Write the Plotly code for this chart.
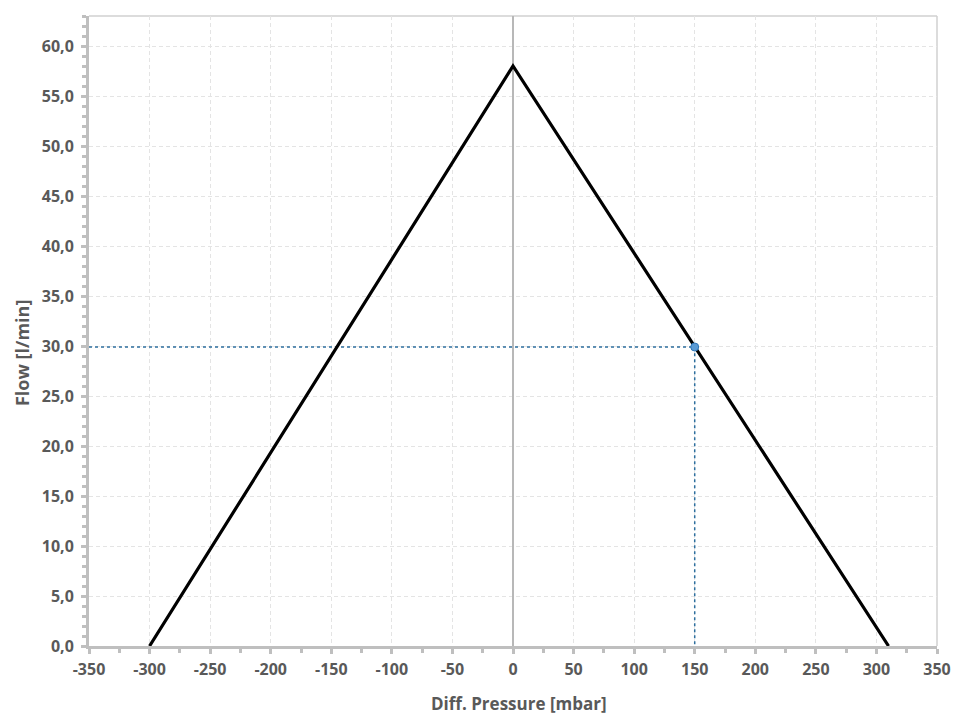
import plotly.graph_objects as go

# Data
pressure = [-300, 0, 310]
flow = [0, 58, 0]
op_pressure = [150]
op_flow = [29.9]
x_ticks = list(range(-350, 351, 50))
x_tick_labels = [str(v) for v in x_ticks]
y_ticks = list(range(0, 61, 5))

fig = go.Figure()

# dotted guide lines to operating point
fig.add_trace(go.Scatter(
    x=[-350, op_pressure[0], op_pressure[0]],
    y=[op_flow[0], op_flow[0], 0],
    mode="lines",
    line=dict(color="#2e6f9e", width=1.5, dash="dot"),
    hoverinfo="skip", showlegend=False))

fig.add_trace(go.Scatter(
    x=pressure, y=flow, mode="lines",
    line=dict(color="black", width=3.2),
    showlegend=False))

fig.add_trace(go.Scatter(
    x=op_pressure, y=op_flow, mode="markers",
    marker=dict(color="#5b9bd5", size=8, line=dict(color="#2e75b6", width=1)),
    showlegend=False))

font_color = "#595959"
axis_col = "#bfbfbf"
grid_col = "#e4e4e4"

fig.update_layout(
    width=960, height=717,
    margin=dict(l=81, r=31, t=8, b=79),
    paper_bgcolor="white", plot_bgcolor="white",
    separators=",.",
    font=dict(family="Open Sans, Segoe UI, sans-serif", color=font_color, size=16),
    xaxis=dict(
        range=[-350, 350], tickvals=x_ticks, ticktext=x_tick_labels,
        tickfont=dict(size=16, weight="bold", color=font_color),
        automargin=False, ticklabelstandoff=2,
        showgrid=True, gridcolor=grid_col, griddash="4px,3px", gridwidth=1,
        showline=True, linecolor=axis_col, linewidth=3,
        ticks="outside", ticklen=5, tickcolor=axis_col, tickwidth=3,
        minor=dict(dtick=25, tick0=0, ticks="outside", ticklen=4, tickcolor=axis_col, tickwidth=3, showgrid=False),
        zeroline=True, zerolinecolor="#b8b8b8", zerolinewidth=1.5,
    ),
    yaxis=dict(
        range=[0, 63], tickvals=y_ticks, tickformat=".1f",
        tickfont=dict(size=16, weight="bold", color=font_color),
        automargin=False, ticklabelstandoff=4,
        showgrid=True, gridcolor=grid_col, griddash="4px,3px", gridwidth=1,
        showline=True, linecolor=axis_col, linewidth=3,
        ticks="outside", ticklen=5, tickcolor=axis_col, tickwidth=3,
        minor=dict(dtick=1, tick0=0, ticks="outside", ticklen=4, tickcolor=axis_col, tickwidth=3, showgrid=False),
        zeroline=False,
    ),
    annotations=[
        dict(text="Diff. Pressure [mbar]", xref="paper", yref="paper", x=0.507, y=-0.092,
             showarrow=False, xanchor="center", yanchor="middle",
             font=dict(size=17, weight="bold", color=font_color)),
        dict(text="Flow [l/min]", xref="paper", yref="paper", x=-0.079, y=0.465,
             showarrow=False, xanchor="center", yanchor="middle", textangle=-90,
             font=dict(size=18, weight="bold", color=font_color)),
    ],
    shapes=[dict(type="line", xref="paper", yref="paper", x0=0, x1=1, y0=1, y1=1,
                 line=dict(color="#d0d0d0", width=1.5), layer="below"),
            dict(type="line", xref="paper", yref="paper", x0=1, x1=1, y0=0, y1=1,
                 line=dict(color="#d0d0d0", width=1.5), layer="below")],
)

fig.write_html("out.html")
